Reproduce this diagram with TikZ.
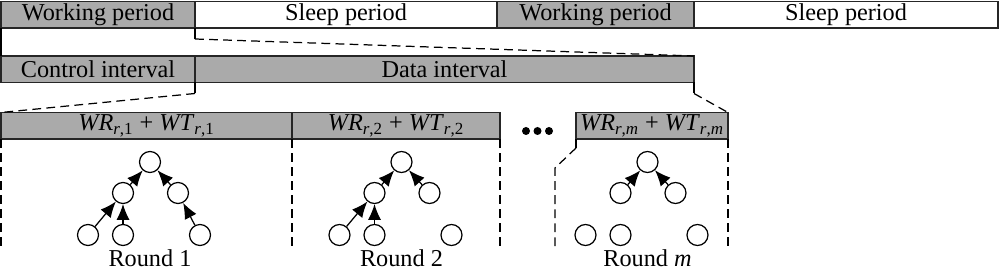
\documentclass[tikz,border=0pt]{standalone}
\usepackage{fontspec}
\setmainfont{Liberation Serif}
\usetikzlibrary{arrows.meta}
\definecolor{slotgray}{RGB}{170,170,170}
\newcommand{\wrwt}[1]{\textit{WR}\textsubscript{\textit{r},#1} + \textit{WT}\textsubscript{\textit{r},#1}}

\begin{document}
\begin{tikzpicture}[>=Latex,font=\fontsize{13.8}{16}\selectfont,
  slot/.style={draw=black!85,line width=.7pt,minimum height=5.3mm,inner sep=0pt,outer sep=0pt,anchor=north west},
  busy/.style={slot,fill=slotgray},
  sensor/.style={circle,draw,line width=.7pt,minimum size=4.2mm,inner sep=0pt},
  link/.style={-{Latex[length=9pt,width=7.5pt]},line width=.7pt},
  zoomline/.style={line width=.7pt,dash pattern=on 5pt off 3pt}]
  \useasboundingbox (0,0) rectangle (20,-5.38);

  % periods
  \node[busy,minimum width=38.8mm] (wp1) at (0.02,-0.03) {Working period};
  \node[slot,minimum width=60.4mm] (sp1) at (wp1.north east) {Sleep period};
  \node[busy,minimum width=39.4mm] (wp2) at (sp1.north east) {Working period};
  \node[slot,minimum width=60.8mm] (sp2) at (wp2.north east) {Sleep period};

  % intervals
  \node[busy,minimum width=38.8mm] (ci) at (0.02,-1.12) {Control interval};
  \node[busy,minimum width=99.8mm] (di) at (ci.north east) {Data interval};

  % rounds
  \node[busy,minimum width=58.2mm] (h1) at (0.02,-2.25) {\wrwt{1}};
  \node[busy,minimum width=41.6mm] (h2) at (h1.north east) {\wrwt{2}};
  \node[busy,minimum width=30.4mm] (hm) at (11.52,-2.25) {\wrwt{\textit{m}}};
  \foreach \x in {10.52,10.75,10.98} \fill (\x,-2.62) circle (0.08);

  \draw[line width=.7pt] (wp1.south west) -- (ci.north west);
  \draw[line width=.7pt] (wp1.south east) -- ++(0,-0.22) coordinate (z1);
  \draw[zoomline] (z1) -- (di.north east);
  \draw[line width=.7pt] (ci.south east) -- ++(0,-0.22) coordinate (z2);
  \draw[zoomline] (z2) -- (h1.north west);
  \draw[line width=.7pt] (di.south east) -- ++(0,-0.22) coordinate (z3);
  \draw[zoomline] (z3) -- (hm.north east);
  \draw[line width=.7pt] (hm.south west) -- ++(0,-0.18) coordinate (z4);
  \draw[zoomline] (z4) -- ++(-0.42,-0.4) -- ++(0,-1.64);
  \foreach \n in {h1.south west,h1.south east,h2.south east,hm.south east}
    \draw[zoomline] (\n) -- ++(0,-2.22);

  % trees
  \foreach \r/\dx/\lab in {1/0/1,2/5.03/2,m/9.95/\textit{m}} {
    \begin{scope}[xshift=\dx cm]
      \node[sensor] (t\r) at (3.0,-3.24) {};
      \node[sensor] (l\r) at (2.46,-3.86) {};
      \node[sensor] (r\r) at (3.56,-3.86) {};
      \node[sensor] (a\r) at (1.76,-4.7) {};
      \node[sensor] (b\r) at (2.46,-4.7) {};
      \node[sensor] (c\r) at (4.0,-4.7) {};
      \node[inner sep=1pt] (round\r) at (3.0,-5.16) {Round \lab};
    \end{scope}
  }
  \draw[link] (a1) -- (l1);
  \draw[link] (b1) -- (l1);
  \draw[link] (c1) -- (r1);
  \draw[link] (l1) -- (t1);
  \draw[link] (r1) -- (t1);
  \draw[link] (a2) -- (l2);
  \draw[link] (b2) -- (l2);
  \draw[link] (l2) -- (t2);
  \draw[link] (r2) -- (t2);
  \draw[link] (lm) -- (tm);
  \draw[link] (rm) -- (tm);
\end{tikzpicture}
\end{document}
